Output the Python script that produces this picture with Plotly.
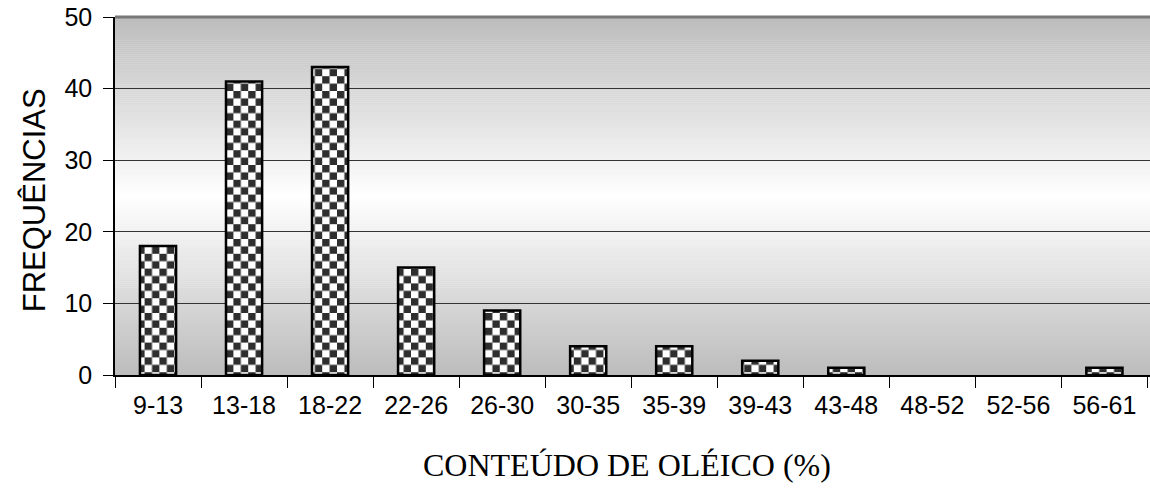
import plotly.graph_objects as go

categories = ["9-13", "13-18", "18-22", "22-26", "26-30", "30-35",
              "35-39", "39-43", "43-48", "48-52", "52-56", "56-61"]
frequencies = [18, 41, 43, 15, 9, 4, 4, 2, 1, 0, 0, 1]
y_ticks = [0, 10, 20, 30, 40, 50]

x_title = "CONTEÚDO DE OLÉICO (%)"
y_title = "FREQUÊNCIAS"

line_widths = [2.5 if v > 0 else 0 for v in frequencies]

fig = go.Figure()
fig.add_trace(go.Bar(
    x=categories, y=frequencies, width=0.42,
    marker=dict(color="white",
                line=dict(color="black", width=line_widths),
                pattern=dict(shape=".", fgcolor="#303030", bgcolor="white",
                             size=7, solidity=0.55)),
    showlegend=False,
))

# vertical background gradient (grey -> white -> grey)
shapes = []
n = 180
top = (188, 188, 188)
for i in range(n):
    t = (i + 0.5) / n
    k = 1 - abs(t - 0.5) * 2  # 0 at edges, 1 in middle
    c = [int(round(v + (255 - v) * k)) for v in top]
    shapes.append(dict(type="rect", xref="paper", yref="paper",
                       x0=0, x1=1, y0=i / n, y1=(i + 1) / n + 0.001,
                       fillcolor=f"rgb({c[0]},{c[1]},{c[2]})",
                       line=dict(width=0), layer="below"))
shapes.append(dict(type="line", xref="paper", yref="paper", x0=0, x1=1,
                   y0=1, y1=1, line=dict(color="#777777", width=3)))

fig.update_layout(
    width=1150, height=491,
    margin=dict(l=115, r=0, t=17, b=116),
    paper_bgcolor="white", plot_bgcolor="white",
    shapes=shapes,
    font=dict(family="Liberation Sans, Arial, sans-serif", color="black"),
    xaxis=dict(type="category", range=[-0.5, 11.53], tickson="boundaries",
               ticks="outside", ticklen=11, tickwidth=1, tickcolor="black",
               showline=True, linecolor="black", linewidth=1.5,
               showgrid=False, tickfont=dict(size=25),
               ticklabelstandoff=7),
    yaxis=dict(range=[0, 50], tickvals=y_ticks, ticks="outside", ticklen=10,
               tickwidth=1, tickcolor="black", showline=True,
               linecolor="black", linewidth=1.5, showgrid=True,
               gridcolor="#333333", gridwidth=1.3, zeroline=False,
               tickfont=dict(size=25), ticklabelstandoff=6,
               ticklabeloverflow="allow"),
    annotations=[
        dict(text=y_title, xref="paper", yref="paper", x=-0.077, y=0.489,
             xanchor="center", yanchor="middle", textangle=-90,
             showarrow=False,
             font=dict(size=31, family="Liberation Sans, Arial, sans-serif")),
        dict(text=x_title, xref="paper", yref="paper", x=0.495, y=-0.25,
             xanchor="center", yanchor="middle", showarrow=False,
             font=dict(size=32,
                       family="Liberation Serif, Times New Roman, serif")),
    ],
)

post = """
(function(){
  document.body.style.margin = '0';
  document.body.style.overflow = 'hidden';
  var gd = document.getElementById('{plot_id}');
  var NS = 'http://www.w3.org/2000/svg';
  function fix(){
    document.querySelectorAll('pattern').forEach(function(p){
      if (p.getAttribute('data-checker')) return;
      var c = 7.4;
      p.setAttribute('width', 2*c); p.setAttribute('height', 2*c);
      while (p.firstChild) p.removeChild(p.firstChild);
      var bg = document.createElementNS(NS, 'rect');
      bg.setAttribute('width', 2*c); bg.setAttribute('height', 2*c);
      bg.setAttribute('fill', '#ffffff'); p.appendChild(bg);
      [[0,0],[c,c]].forEach(function(o){
        var r = document.createElementNS(NS, 'rect');
        r.setAttribute('x', o[0]); r.setAttribute('y', o[1]);
        r.setAttribute('width', c); r.setAttribute('height', c);
        r.setAttribute('fill', '#2e2e2e'); p.appendChild(r);
      });
      p.setAttribute('data-checker', '1');
    });
  }
  fix();
  if (gd && gd.on) gd.on('plotly_afterplot', fix);
})();
"""

fig.write_html("out.html", post_script=post,
               config={"displayModeBar": False})
